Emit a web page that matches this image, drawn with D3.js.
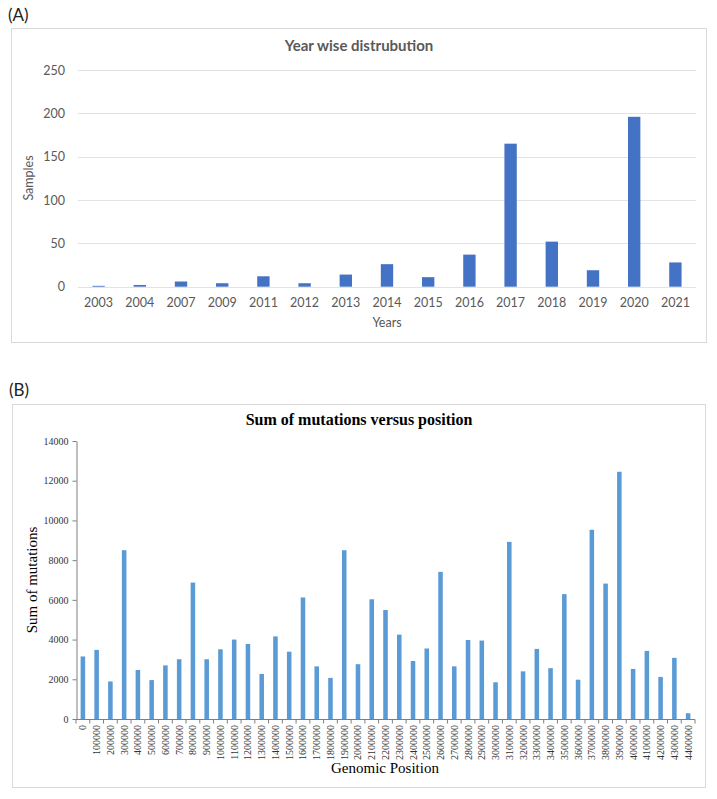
<!DOCTYPE html>
<html>
<head>
<meta charset="utf-8">
<script src="https://cdn.jsdelivr.net/npm/d3@7"></script>
<style>
  html, body { margin: 0; padding: 0; background: #fff; }
  svg { display: block; }
</style>
</head>
<body>
<svg id="chart" width="717" height="799"></svg>
<script>
// ---------- Data: panel A ----------
const years = ["2003","2004","2007","2009","2011","2012","2013","2014","2015","2016","2017","2018","2019","2020","2021"];
const samples = [1, 2, 6, 4, 12, 4, 14, 26, 11, 37, 165, 52, 19, 196, 28];
const yearTicks = [0, 50, 100, 150, 200, 250];

// ---------- Data: panel B ----------
const positions = ["0","100000","200000","300000","400000","500000","600000","700000","800000","900000",
  "1000000","1100000","1200000","1300000","1400000","1500000","1600000","1700000","1800000","1900000",
  "2000000","2100000","2200000","2300000","2400000","2500000","2600000","2700000","2800000","2900000",
  "3000000","3100000","3200000","3300000","3400000","3500000","3600000","3700000","3800000","3900000",
  "4000000","4100000","4200000","4300000","4400000"];
const mutations = [3150, 3480, 1890, 8500, 2470, 1960, 2700, 3010, 6870, 3010,
  3510, 4000, 3780, 2270, 4160, 3390, 6120, 2650, 2070, 8500,
  2760, 6030, 5490, 4250, 2920, 3550, 7410, 2650, 3980, 3950,
  1850, 8920, 2400, 3530, 2560, 6290, 1980, 9530, 6820, 12450,
  2520, 3430, 2120, 3080, 290];
const mutTicks = [0, 2000, 4000, 6000, 8000, 10000, 12000, 14000];

const svg = d3.select("#chart");

// ================= Panel A =================
const calib = "Lato, 'Open Sans', sans-serif";
svg.append("text").attr("x", 8).attr("y", 21)
  .attr("font-family", calib).attr("font-size", 17).attr("fill", "#222")
  .text("(A)");
svg.append("rect").attr("x", 11.5).attr("y", 28.5).attr("width", 695).attr("height", 314)
  .attr("fill", "#fff").attr("stroke", "#d9d9d9").attr("stroke-width", 1);

const xA = d3.scaleBand().domain(years).range([78, 696]).paddingInner(0.70).paddingOuter(0.35);
const yA = d3.scaleLinear().domain([0, 250]).range([286.7, 70]);

const gA = svg.append("g");
// gridlines
gA.append("g").selectAll("line").data(yearTicks).join("line")
  .attr("x1", 78).attr("x2", 696)
  .attr("y1", d => Math.round(yA(d)) + 0.5).attr("y2", d => Math.round(yA(d)) + 0.5)
  .attr("stroke", "#e3e3e3").attr("stroke-width", 1);

// y axis labels
const axA = gA.append("g").attr("transform", "translate(78,0)")
  .call(d3.axisLeft(yA).tickValues(yearTicks).tickFormat(d3.format("d")).tickSize(0).tickPadding(13));
axA.select(".domain").remove();
axA.selectAll("text").attr("font-family", calib).attr("font-size", 12.5).attr("fill", "#595959");

// bars
gA.append("g").selectAll("rect").data(years).join("rect")
  .attr("x", d => xA(d)).attr("width", xA.bandwidth())
  .attr("y", (d, i) => yA(samples[i])).attr("height", (d, i) => yA(0) - yA(samples[i]))
  .attr("fill", "#4472C4");

// x axis labels
const axAx = gA.append("g").attr("transform", "translate(0,286.7)")
  .call(d3.axisBottom(xA).tickSize(0).tickPadding(11));
axAx.select(".domain").remove();
axAx.selectAll("text").attr("font-family", calib).attr("font-size", 12.5).attr("fill", "#595959");

// titles
svg.append("text").attr("x", 359).attr("y", 51).attr("text-anchor", "middle")
  .attr("font-family", calib).attr("font-size", 15).attr("font-weight", "bold").attr("fill", "#595959")
  .text("Year wise distrubution");
svg.append("text").attr("x", 387).attr("y", 327).attr("text-anchor", "middle")
  .attr("font-family", calib).attr("font-size", 12.5).attr("fill", "#595959")
  .text("Years");
svg.append("text").attr("transform", "translate(33,178) rotate(-90)").attr("text-anchor", "middle")
  .attr("font-family", calib).attr("font-size", 12.5).attr("fill", "#595959")
  .text("Samples");

// ================= Panel B =================
const times = "'Liberation Serif', 'Times New Roman', serif";
svg.append("text").attr("x", 9).attr("y", 396)
  .attr("font-family", calib).attr("font-size", 17).attr("fill", "#222")
  .text("(B)");
svg.append("rect").attr("x", 12.5).attr("y", 404.5).attr("width", 693).attr("height", 383)
  .attr("fill", "#fff").attr("stroke", "#d9d9d9").attr("stroke-width", 1);

const xB = d3.scaleBand().domain(positions).range([76, 695]).paddingInner(0.67).paddingOuter(0.335);
const yB = d3.scaleLinear().domain([0, 14000]).range([719, 441]);

const gB = svg.append("g");
// bars
gB.append("g").selectAll("rect").data(positions).join("rect")
  .attr("x", d => xB(d)).attr("width", xB.bandwidth())
  .attr("y", (d, i) => yB(mutations[i])).attr("height", (d, i) => yB(0) - yB(mutations[i]))
  .attr("fill", "#5B9BD5");

// y axis
const axBy = gB.append("g").attr("transform", "translate(76.5,0)")
  .call(d3.axisLeft(yB).tickValues(mutTicks).tickFormat(d3.format("d")).tickSize(4).tickPadding(4).tickSizeOuter(0));
axBy.selectAll("path, line").attr("stroke", "#7f7f7f");
axBy.selectAll("text").attr("font-family", times).attr("font-size", 10).attr("fill", "#333");

// x axis: line + ticks between categories
const step = xB.step();
const boundaries = d3.range(positions.length + 1).map(i => 76 + i * step);
gB.append("line").attr("x1", 76).attr("x2", 695).attr("y1", 719.5).attr("y2", 719.5)
  .attr("stroke", "#7f7f7f");
gB.append("g").selectAll("line").data(boundaries).join("line")
  .attr("x1", d => d).attr("x2", d => d).attr("y1", 719.5).attr("y2", 723.5)
  .attr("stroke", "#7f7f7f");
// x labels rotated
gB.append("g").selectAll("text").data(positions).join("text")
  .attr("transform", d => `translate(${xB(d) + xB.bandwidth() / 2 + 3.5},725) rotate(-90)`)
  .attr("text-anchor", "end")
  .attr("font-family", times).attr("font-size", 10).attr("fill", "#333")
  .text(d => d);

// titles
svg.append("text").attr("x", 359).attr("y", 425).attr("text-anchor", "middle")
  .attr("font-family", times).attr("font-size", 16).attr("font-weight", "bold").attr("fill", "#000")
  .text("Sum of mutations versus position");
svg.append("text").attr("x", 385).attr("y", 773).attr("text-anchor", "middle")
  .attr("font-family", times).attr("font-size", 15).attr("fill", "#000")
  .text("Genomic Position");
svg.append("text").attr("transform", "translate(37,580) rotate(-90)").attr("text-anchor", "middle")
  .attr("font-family", times).attr("font-size", 15).attr("fill", "#000")
  .text("Sum of mutations");
</script>
</body>
</html>
